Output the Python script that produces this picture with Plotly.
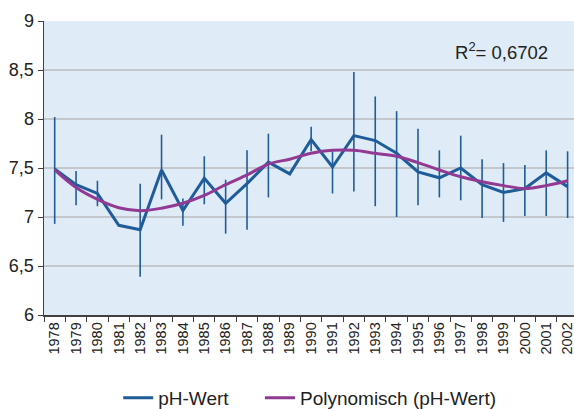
import plotly.graph_objects as go

years = [str(y) for y in range(1978, 2003)]
ph_values = [7.49, 7.33, 7.24, 6.915, 6.87, 7.48, 7.065, 7.395, 7.14, 7.34, 7.56, 7.44,
             7.79, 7.51, 7.83, 7.78, 7.65, 7.46, 7.40, 7.50, 7.33, 7.25, 7.29, 7.45, 7.31]
err_top = [8.02, 7.47, 7.37, 6.915, 7.34, 7.84, 7.19, 7.62, 7.38, 7.68, 7.85, 7.44,
           7.92, 7.67, 8.48, 8.23, 8.08, 7.90, 7.68, 7.83, 7.59, 7.55, 7.53, 7.68, 7.67]
err_bottom = [6.93, 7.12, 7.11, 6.915, 6.39, 7.18, 6.91, 7.13, 6.83, 6.87, 7.20, 7.44,
              7.67, 7.24, 7.26, 7.11, 7.00, 7.12, 7.20, 7.17, 6.99, 6.95, 7.01, 7.01, 6.99]
trend_values = [7.48, 7.30, 7.18, 7.095, 7.065, 7.09, 7.14, 7.22, 7.33, 7.43, 7.54, 7.59,
                7.65, 7.68, 7.68, 7.65, 7.62, 7.555, 7.48, 7.41, 7.36, 7.32, 7.29, 7.32, 7.37]
series_names = ["pH-Wert", "Polynomisch (pH-Wert)"]
r2_text = "R<sup>2</sup>= 0,6702"

BLUE = "#1F5C99"
PURPLE = "#923A93"
FONT = "Liberation Sans, Arial, sans-serif"
NBSP = "\u00a0"

plus = [t - v for t, v in zip(err_top, ph_values)]
minus = [v - b for v, b in zip(ph_values, err_bottom)]

fig = go.Figure()
fig.add_trace(go.Scatter(
    x=years, y=ph_values, mode="lines", name=series_names[0] + NBSP * 5,
    line=dict(color=BLUE, width=3),
    error_y=dict(type="data", symmetric=False, array=plus, arrayminus=minus,
                 color=BLUE, thickness=1.6, width=0),
))
fig.add_trace(go.Scatter(
    x=years, y=trend_values, mode="lines", name=series_names[1],
    line=dict(color=PURPLE, width=3, shape="spline", smoothing=1),
))

fig.add_annotation(text=r2_text, xref="paper", yref="paper", x=0.955, y=0.898,
                   xanchor="right", yanchor="middle", showarrow=False,
                   font=dict(family=FONT, size=18.5, color="#222222"))

fig.update_layout(
    width=574, height=409,
    margin=dict(l=44, r=0, t=21, b=94, autoexpand=False),
    paper_bgcolor="white",
    plot_bgcolor="#DFECF7",
    separators=",.",
    font=dict(family=FONT, color="#222222"),
    showlegend=True,
    legend=dict(orientation="h", x=0.14, xanchor="left", y=-0.282, yanchor="middle",
                font=dict(family=FONT, size=19, color="#222222"),
                bgcolor="rgba(0,0,0,0)", itemwidth=30),
)
fig.update_xaxes(
    type="category", categoryorder="array", categoryarray=years,
    range=[-0.5, 24.3], tickson="boundaries", ticks="outside", ticklen=5,
    tickcolor="#404040", showline=True, linecolor="#404040", linewidth=1.5,
    tickangle=-90, tickfont=dict(family=FONT, size=14.5, color="#222222"),
    showgrid=False, zeroline=False, automargin=False,
)
fig.update_yaxes(
    range=[6, 9], dtick=0.5, tick0=6, ticks="outside", ticklen=5, tickcolor="#404040",
    showline=True, linecolor="#404040", linewidth=1.5,
    showgrid=True, gridcolor="#C4C8CC", gridwidth=1.2, zeroline=False,
    tickfont=dict(family=FONT, size=18, color="#222222"), automargin=False,
)

fig.write_html(
    "out.html",
    config={"displayModeBar": False, "staticPlot": True},
    post_script="document.body.style.margin='0';document.body.style.overflow='hidden';",
)
